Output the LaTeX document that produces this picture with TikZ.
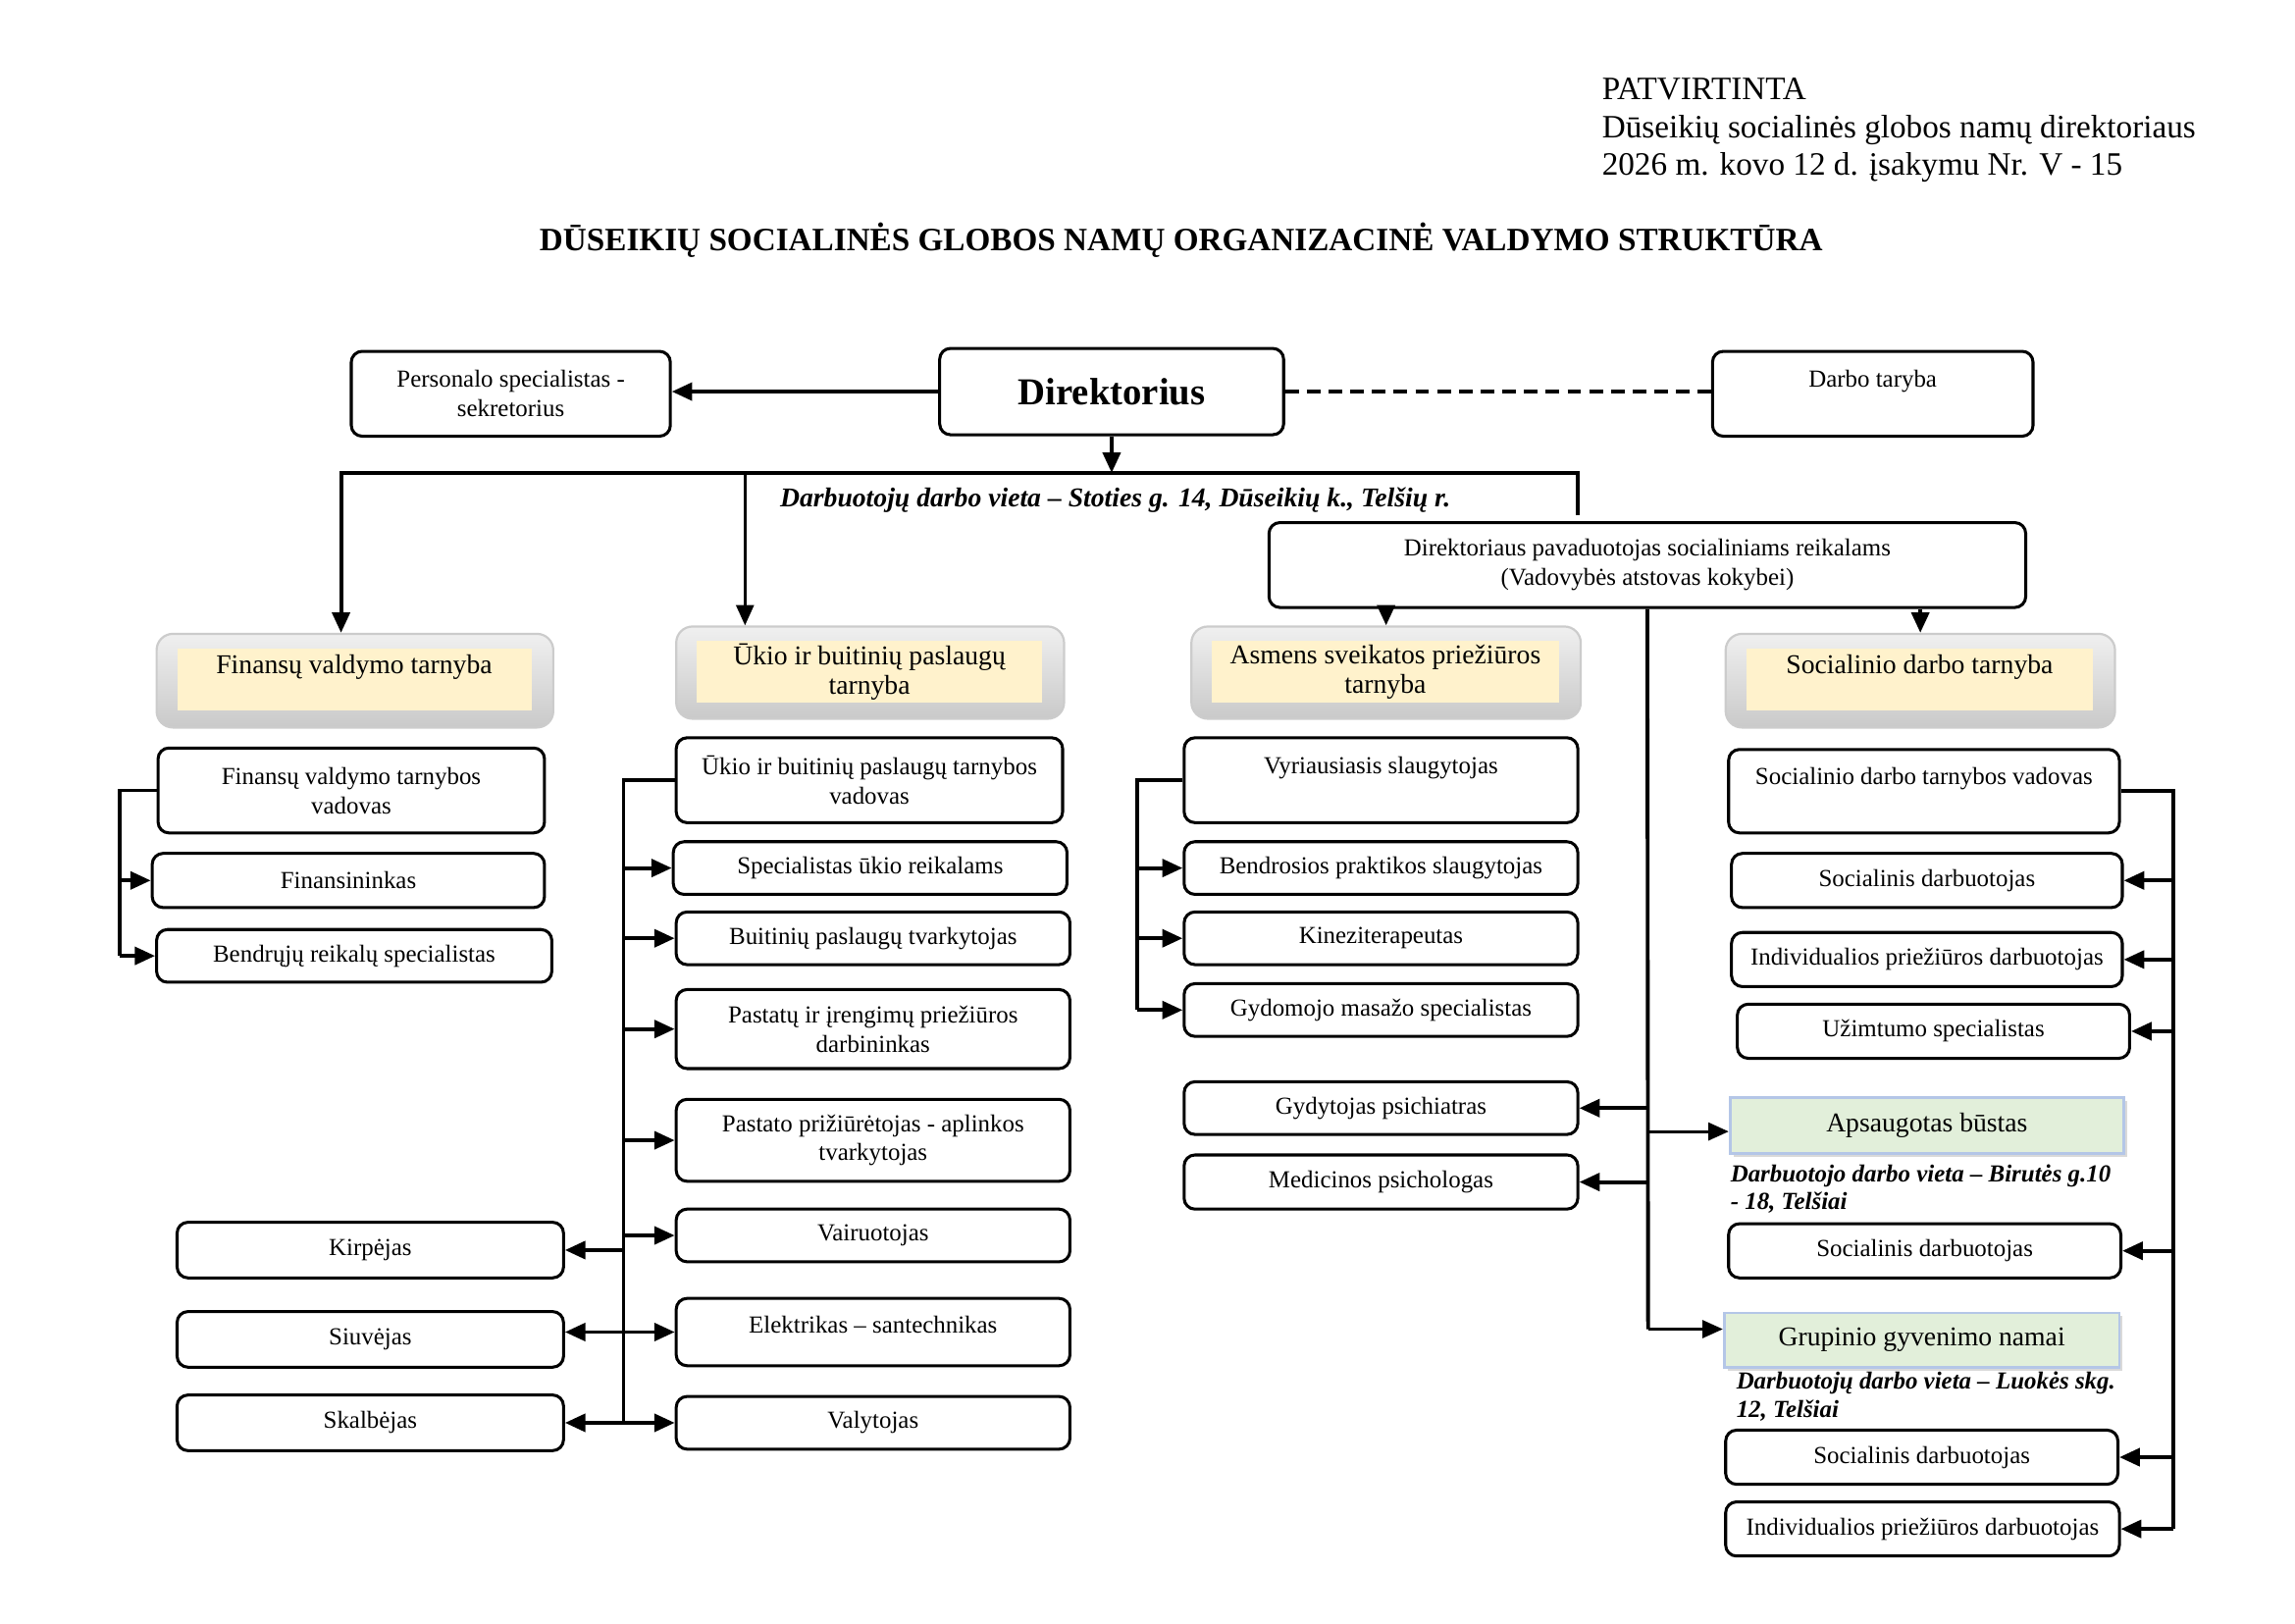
\documentclass[tikz,border=0pt]{standalone}
\usepackage{fontspec}
\setmainfont{Liberation Serif}
\usepackage{xcolor}
\usepackage{tikz}
\usetikzlibrary{arrows.meta,shadows}

\newcommand{\px}{0.18945mm}
\newcommand{\boxfont}{\fontsize{9}{10.8}\selectfont}
\newcommand{\headfont}{\fontsize{10}{10.8}\selectfont}
\newcommand{\notefont}{\fontsize{9}{10.3}\selectfont\bfseries\itshape}
\definecolor{beige}{RGB}{255,242,204}
\definecolor{unitgreen}{RGB}{226,239,218}
\definecolor{unitblue}{RGB}{180,198,231}

\begin{document}
\begin{tikzpicture}[x=\px, y=-\px, >={Triangle[length=7.5pt,width=6.5pt]},
  every node/.style={font=\boxfont},
  box/.style 2 args={draw, rounded corners=4pt, line width=1.1pt, align=center, inner sep=1pt, minimum width=#1*\px, minimum height=#2*\px},
  head/.style 2 args={rounded corners=6pt, draw=gray!40, line width=0.8pt, top color=gray!12, bottom color=gray!42, minimum width=#1*\px, minimum height=#2*\px},
  headin/.style 2 args={fill=beige, align=center, inner sep=1pt, font=\headfont, minimum width=#1*\px, minimum height=#2*\px},
  unit/.style 2 args={draw=unitblue, line width=1pt, fill=unitgreen, drop shadow={shadow xshift=1.2pt, shadow yshift=-1.2pt, opacity=0.3, fill=gray}, font=\headfont, minimum width=#1*\px, minimum height=#2*\px},
  note/.style={font=\notefont, align=left, anchor=north west, inner sep=0pt},
  link/.style={line width=1.4pt},
  thinlink/.style={line width=1pt}]
\useasboundingbox (0,0) rectangle (1568,1108.8);

\node[anchor=west, align=left, font=\fontsize{12}{14}\selectfont] (appr) at (1088,89) {PATVIRTINTA\\Dūseikių socialinės globos namų direktoriaus\\2026 m. kovo 12 d. įsakymu Nr. V - 15};
\node[font=\fontsize{12}{14}\selectfont\bfseries] (title) at (807,164) {DŪSEIKIŲ SOCIALINĖS GLOBOS NAMŲ ORGANIZACINĖ VALDYMO STRUKTŪRA};

\node[box={218}{58}] (pers) at (349,269) {Personalo specialistas -\\sekretorius};
\node[box={235}{59}, font=\fontsize{14}{16}\selectfont\bfseries] (dir) at (759.5,267.5) {Direktorius};
\node[box={219}{58}] (tar) at (1279.5,269) {Darbo taryba\\~};
\node[font=\fontsize{10}{11}\selectfont\bfseries\itshape] (loc) at (762,342) {Darbuotojų darbo vieta – Stoties g. 14, Dūseikių k., Telšių r.};
\node[box={517}{58}] (pav) at (1125.5,386) {Direktoriaus pavaduotojas socialiniams reikalams\\(Vadovybės atstovas kokybei)};

\node[head={271}{64}] (fin) at (242.5,465) {};
\node[headin={242}{42}] (finT) at (242,464) {Finansų valdymo tarnyba\\~};
\node[head={265}{63}] (uk) at (594.5,459.5) {};
\node[headin={236}{42}] (ukT) at (594,459) {Ūkio ir buitinių paslaugų\\tarnyba};
\node[head={266}{63}] (asm) at (947,459.5) {};
\node[headin={237}{42}] (asmT) at (946.5,459) {Asmens sveikatos priežiūros\\tarnyba};
\node[head={266}{64}] (soc) at (1312,465) {};
\node[headin={237}{42}] (socT) at (1311.5,464) {Socialinio darbo tarnyba\\~};

\node[box={264}{58}] (finV) at (240,540) {Finansų valdymo tarnybos\\vadovas};
\node[box={268}{37}] (fn) at (238,601.5) {Finansininkas};
\node[box={270}{36}] (fb) at (242,653) {Bendrųjų reikalų specialistas};

\node[box={264}{58}] (uV) at (594,533) {Ūkio ir buitinių paslaugų tarnybos\\vadovas};
\node[box={269}{36}] (u1) at (594.5,593) {Specialistas ūkio reikalams};
\node[box={269}{36}] (u2) at (596.5,641) {Buitinių paslaugų tvarkytojas};
\node[box={269}{54}] (u3) at (596.5,703) {Pastatų ir įrengimų priežiūros\\darbininkas};
\node[box={269}{56}] (u4) at (596.5,779) {Pastato prižiūrėtojas - aplinkos\\tvarkytojas};
\node[box={269}{36}] (u5) at (596.5,844) {Vairuotojas};
\node[box={269}{46}] (u6) at (596.5,910) {Elektrikas – santechnikas\\[-5pt]~};
\node[box={269}{36}] (u7) at (596.5,972) {Valytojas};
\node[box={264}{38}] (kir) at (253,854) {Kirpėjas};
\node[box={264}{38}] (siu) at (253,915) {Siuvėjas};
\node[box={264}{38}] (ska) at (253,972) {Skalbėjas};

\node[box={269}{58}] (vyr) at (943.5,533) {Vyriausiasis slaugytojas\\~};
\node[box={269}{36}] (a1) at (943.5,593) {Bendrosios praktikos slaugytojas};
\node[box={269}{36}] (a2) at (943.5,641) {Kineziterapeutas};
\node[box={269}{36}] (a3) at (943.5,690) {Gydomojo masažo specialistas};
\node[box={269}{36}] (gyd) at (943.5,757) {Gydytojas psichiatras};
\node[box={269}{37}] (med) at (943.5,807.5) {Medicinos psichologas};

\node[box={267}{57}] (sV) at (1314.5,540.5) {Socialinio darbo tarnybos vadovas\\~};
\node[box={267}{37}] (s1) at (1316.5,601.5) {Socialinis darbuotojas};
\node[box={267}{37}] (s2) at (1316.5,655.5) {Individualios priežiūros darbuotojas};
\node[box={268}{37}] (s3) at (1321,704.5) {Užimtumo specialistas};
\node[unit={269}{38}] (aps) at (1316.5,769) {Apsaugotas būstas};
\node[note] (n1) at (1182,795) {Darbuotojo darbo vieta – Birutės g.10\\- 18, Telšiai};
\node[box={268}{37}] (s4) at (1315,854.5) {Socialinis darbuotojas};
\node[unit={270}{37}] (grp) at (1313,915.5) {Grupinio gyvenimo namai};
\node[note] (n2) at (1186,937) {Darbuotojų darbo vieta – Luokės skg.\\12, Telšiai};
\node[box={268}{37}] (s5) at (1313,995.5) {Socialinis darbuotojas};
\node[box={269}{37}] (s6) at (1313.5,1044.5) {Individualios priežiūros darbuotojas};

\coordinate (bl) at (233,323);
\coordinate (br) at (1078,323);
\coordinate (be) at (1078,352);
\coordinate (bu) at (509,323);
\coordinate (pa) at (1126,773);
\coordinate (pg) at (1126,908);
\coordinate (fL) at (82,0);
\coordinate (uL) at (426,0);
\coordinate (aL) at (777,0);
\coordinate (sR) at (1485,0);

\draw[link,->] (dir.west) -- (dir.west -| pers.east);
\draw[link, dash pattern=on 5pt off 3pt] (dir.east) -- (dir.east -| tar.west);
\draw[link,->] (dir.south) -- (dir.south |- bl);
\draw[link,->] (be) -- (br) -- (bl) -- (bl |- fin.north);
\draw[thinlink,->] (bu) -- (bu |- uk.north);
\draw[link,->] (asm.north |- pav.south) -- (asm.north);
\draw[link,->] (soc.north |- pav.south) -- (soc.north);

\draw[link] (finV.west) -- (finV.west -| fL) -- (fb.west -| fL);
\foreach \n in {fn,fb} \draw[link,->] (\n.west -| fL) -- (\n.west);

\draw[link] (uV.west) -- (uV.west -| uL) -- (u7.west -| uL);
\foreach \n in {u1,u2,u3,u4,u5,u6,u7} \draw[link,->] (\n.west -| uL) -- (\n.west);
\draw[link,->] (kir.east -| uL) -- (kir.east);
\draw[link,->] (u6.west -| uL) -- (u6.west -| siu.east);
\draw[link,->] (ska.east -| uL) -- (ska.east);

\draw[link] (vyr.west) -- (vyr.west -| aL) -- (a3.west -| aL);
\foreach \n in {a1,a2,a3} \draw[link,->] (\n.west -| aL) -- (\n.west);

\draw[link] (pav.south) -- (pg);
\draw[thinlink,->] (pa) -- (pa -| aps.west);
\draw[thinlink,->] (pg) -- (pg -| grp.west);
\draw[link,->] (gyd.east -| pg) -- (gyd.east);
\draw[link,->] (med.east -| pg) -- (med.east);

\draw[link] (sV.east) -- (sV.east -| sR) -- (s6.east -| sR);
\foreach \n in {s1,s2,s3,s4,s5,s6} \draw[link,->] (\n.east -| sR) -- (\n.east);
\end{tikzpicture}
\end{document}
